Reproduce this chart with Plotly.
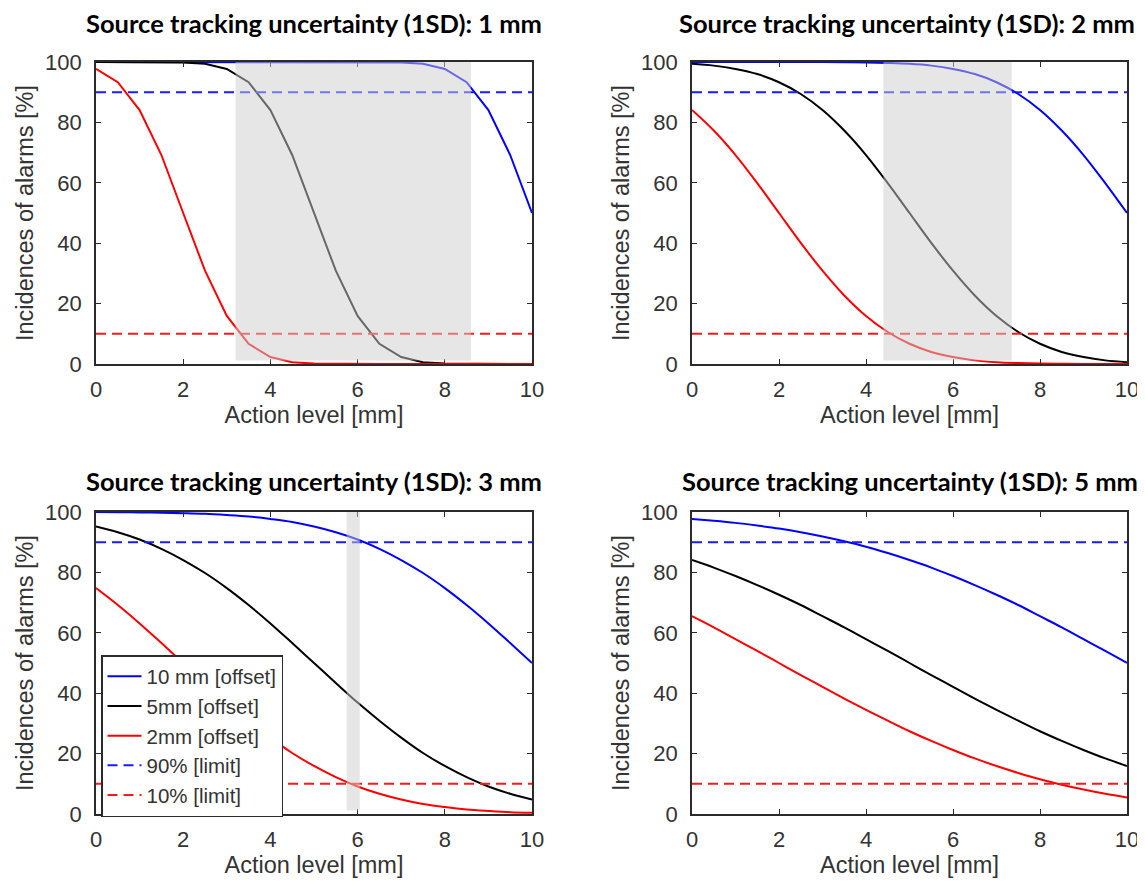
import plotly.graph_objects as go

# ---------------- data ----------------
action_level = [0, 0.5, 1, 1.5, 2, 2.5, 3, 3.5, 4, 4.5, 5,
                5.5, 6, 6.5, 7, 7.5, 8, 8.5, 9, 9.5, 10]

sd_titles = ["Source tracking uncertainty (1SD): 1 mm",
             "Source tracking uncertainty (1SD): 2 mm",
             "Source tracking uncertainty (1SD): 3 mm",
             "Source tracking uncertainty (1SD): 5 mm"]

# SD = 1 mm
sd1_off10 = [100, 100, 100, 100, 100, 100, 100, 100, 100, 100, 100,
             100, 100, 99.98, 99.87, 99.4, 97.7, 93.3, 84.1, 69.2, 50.0]
sd1_off5 = [100, 100, 100, 99.98, 99.87, 99.4, 97.7, 93.3, 84.1, 69.2, 50.0,
            30.9, 15.9, 6.7, 2.3, 0.6, 0.13, 0.02, 0, 0, 0]
sd1_off2 = [97.7, 93.3, 84.1, 69.2, 50.0, 30.9, 15.9, 6.7, 2.3, 0.6, 0.13,
            0.02, 0, 0, 0, 0, 0, 0, 0, 0, 0]

# SD = 2 mm
sd2_off10 = [100, 100, 100, 100, 100, 99.99, 99.98, 99.94, 99.87, 99.7, 99.4,
             98.8, 97.7, 96.0, 93.3, 89.4, 84.1, 77.3, 69.2, 59.9, 50.0]
sd2_off5 = [99.4, 98.8, 97.7, 96.0, 93.3, 89.4, 84.1, 77.3, 69.2, 59.9, 50.0,
            40.1, 30.9, 22.7, 15.9, 10.6, 6.7, 4.0, 2.3, 1.2, 0.6]
sd2_off2 = [84.1, 77.3, 69.2, 59.9, 50.0, 40.1, 30.9, 22.7, 15.9, 10.6, 6.7,
            4.0, 2.3, 1.2, 0.6, 0.3, 0.13, 0.06, 0.02, 0.01, 0]

# SD = 3 mm
sd3_off10 = [99.96, 99.92, 99.87, 99.77, 99.62, 99.4, 99.0, 98.5, 97.7, 96.7, 95.2,
             93.3, 90.9, 87.8, 84.1, 79.8, 74.8, 69.2, 63.1, 56.6, 50.0]
sd3_off5 = [95.2, 93.3, 90.9, 87.8, 84.1, 79.8, 74.8, 69.2, 63.1, 56.6, 50.0,
            43.4, 36.9, 30.9, 25.3, 20.2, 15.9, 12.2, 9.1, 6.7, 4.8]
sd3_off2 = [74.8, 69.2, 63.1, 56.6, 50.0, 43.4, 36.9, 30.9, 25.3, 20.2, 15.9,
            12.2, 9.1, 6.7, 4.8, 3.3, 2.3, 1.5, 1.0, 0.6, 0.4]

# SD = 5 mm
sd5_off10 = [97.7, 97.1, 96.4, 95.5, 94.5, 93.3, 91.9, 90.3, 88.5, 86.4, 84.1,
             81.6, 78.8, 75.8, 72.6, 69.2, 65.5, 61.8, 57.9, 54.0, 50.0]
sd5_off5 = [84.1, 81.6, 78.8, 75.8, 72.6, 69.2, 65.5, 61.8, 57.9, 54.0, 50.0,
            46.0, 42.1, 38.2, 34.5, 30.9, 27.4, 24.2, 21.2, 18.4, 15.9]
sd5_off2 = [65.5, 61.8, 57.9, 54.0, 50.0, 46.0, 42.1, 38.2, 34.5, 30.9, 27.4,
            24.2, 21.2, 18.4, 15.9, 13.6, 11.5, 9.7, 8.1, 6.7, 5.5]

limit_x = [0, 10]
limit_90 = [90, 90]
limit_10 = [10, 10]

# shaded acceptable windows (x0, x1) per panel, None = no window
windows = [(3.2, 8.6), (4.4, 7.35), (5.75, 6.05), None]

series_names = ["10 mm [offset]", "5mm [offset]", "2mm [offset]",
                "90% [limit]", "10% [limit]"]

panels = [
    (sd1_off10, sd1_off5, sd1_off2),
    (sd2_off10, sd2_off5, sd2_off2),
    (sd3_off10, sd3_off5, sd3_off2),
    (sd5_off10, sd5_off5, sd5_off2),
]

# ---------------- layout geometry ----------------
OFF = 8                      # page body margin
W, H = 1145 - OFF, 882 - OFF
px_x = [(96, 532), (692, 1127), (96, 532), (692, 1127)]
px_y = [(62, 364), (62, 364), (512, 814), (512, 814)]
title_y = [23, 23, 481, 481]
title_x = [314, 907, 314, 910]


def fx(p):
    return (p - OFF) / W


def fy(p):
    return 1 - (p - OFF) / H


TXT = "#333333"
AX = "#2b2b2b"
FONT = "Liberation Sans, Arial, sans-serif"

fig = go.Figure()

layout = dict(
    width=W, height=H, autosize=False,
    margin=dict(l=0, r=0, t=0, b=0, pad=0),
    paper_bgcolor="white", plot_bgcolor="white",
    font=dict(family=FONT, color=TXT, size=22),
    showlegend=True,
    shapes=[], annotations=[],
)

for i in range(4):
    sfx = "" if i == 0 else str(i + 1)
    xa, ya = "x" + sfx, "y" + sfx
    x0p, x1p = px_x[i]
    y0p, y1p = px_y[i]
    common = dict(
        showline=True, linecolor=AX, linewidth=1.6, mirror="ticks",
        ticks="inside", ticklen=5, tickwidth=1.3, tickcolor=AX,
        showgrid=False, zeroline=False, automargin=False,
        tickfont=dict(family=FONT, size=22, color=TXT),
    )
    layout["xaxis" + sfx] = dict(
        common, domain=[fx(x0p), fx(x1p)], anchor=ya, range=[0, 10],
        tickvals=[0, 2, 4, 6, 8, 10], ticklabelstandoff=5,
        title=dict(text="Action level [mm]", standoff=0,
                   font=dict(family=FONT, size=23.5, color=TXT)),
    )
    layout["yaxis" + sfx] = dict(
        common, domain=[fy(y1p), fy(y0p)], anchor=xa, range=[0, 100],
        tickvals=[0, 20, 40, 60, 80, 100], ticklabelstandoff=8,
        title=dict(text="Incidences of alarms [%]", standoff=5,
                   font=dict(family=FONT, size=23.5, color=TXT)),
    )
    layout["annotations"].append(dict(
        text="<b>" + sd_titles[i] + "</b>", xref="paper", yref="paper",
        x=fx(title_x[i]), y=fy(title_y[i]), xanchor="center",
        yanchor="middle", showarrow=False,
        font=dict(family="Lato, Carlito, sans-serif", size=25.5, color="black"),
    ))

    off10, off5, off2 = panels[i]
    shape_kind = "linear" if i == 0 else "spline"
    show = (i == 2)
    fig.add_trace(go.Scatter(x=action_level, y=off10, mode="lines", xaxis=xa, yaxis=ya,
                             name=series_names[0], showlegend=show, legendgroup="a",
                             line=dict(color="#0000ff", width=2, shape=shape_kind)))
    fig.add_trace(go.Scatter(x=action_level, y=off5, mode="lines", xaxis=xa, yaxis=ya,
                             name=series_names[1], showlegend=show, legendgroup="b",
                             line=dict(color="#000000", width=2, shape=shape_kind)))
    fig.add_trace(go.Scatter(x=action_level, y=off2, mode="lines", xaxis=xa, yaxis=ya,
                             name=series_names[2], showlegend=show, legendgroup="c",
                             line=dict(color="#ff0000", width=2, shape=shape_kind)))
    fig.add_trace(go.Scatter(x=limit_x, y=limit_90, mode="lines", xaxis=xa, yaxis=ya,
                             name=series_names[3], showlegend=show, legendgroup="d",
                             line=dict(color="#1a1aff", width=2, dash="10px,6px")))
    fig.add_trace(go.Scatter(x=limit_x, y=limit_10, mode="lines", xaxis=xa, yaxis=ya,
                             name=series_names[4], showlegend=show, legendgroup="e",
                             line=dict(color="#ff1a1a", width=2, dash="10px,6px")))

    if windows[i] is not None:
        wx0, wx1 = windows[i]
        layout["shapes"].append(dict(
            type="rect", xref=xa, yref=ya, x0=wx0, x1=wx1, y0=1.2, y1=100,
            fillcolor="rgba(205,205,205,0.5)", line=dict(width=0), layer="above",
        ))

layout["legend"] = dict(
    x=fx(101), y=fy(655), xanchor="left", yanchor="top",
    xref="paper", yref="paper",
    bgcolor="white", bordercolor=AX, borderwidth=1.5,
    font=dict(family=FONT, size=20.5, color=TXT),
    traceorder="grouped", tracegroupgap=0, itemwidth=34,
)

fig.update_layout(**layout)
fig.write_html("out.html")
